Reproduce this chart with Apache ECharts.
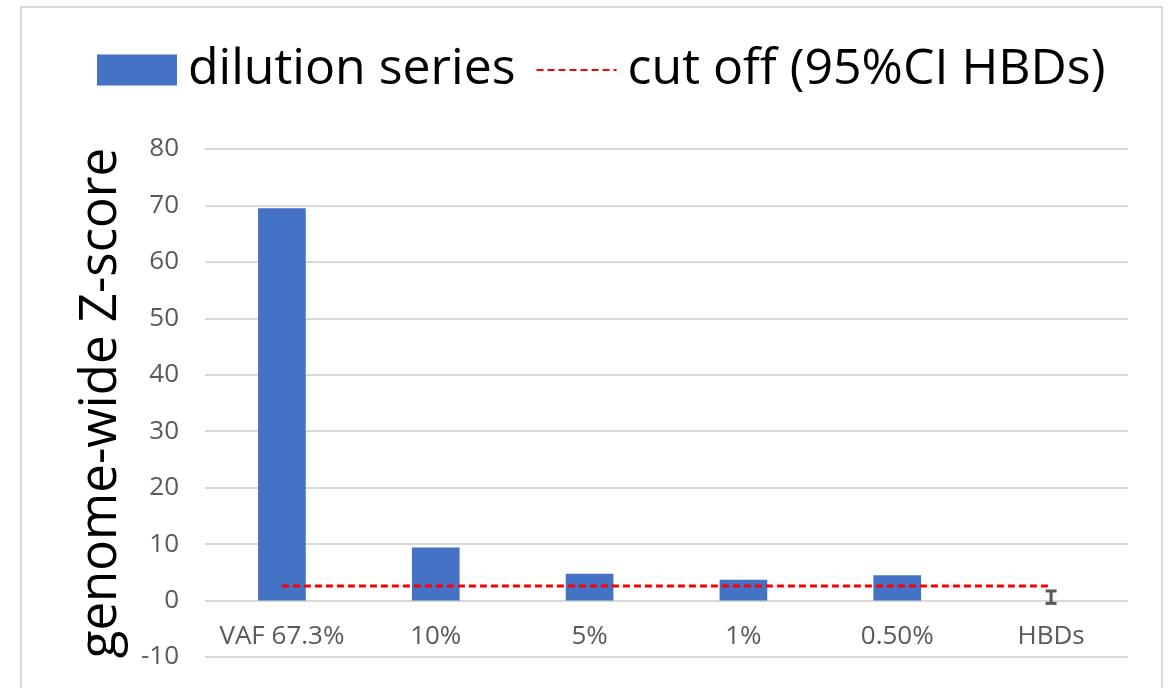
<!DOCTYPE html>
<html>
<head>
<meta charset="utf-8">
<script src="https://cdn.jsdelivr.net/npm/echarts@6/dist/echarts.min.js"></script>
<style>
  html, body { margin: 0; padding: 0; background: #ffffff; }
  #chart { width: 1169px; height: 688px; }
</style>
</head>
<body>
<div id="chart"></div>
<script>
// Samples along the dilution series, plus healthy blood donors (HBDs)
const categories = ['VAF 67.3%', '10%', '5%', '1%', '0.50%', 'HBDs'];
// Genome-wide Z-score per sample
const zScores = [69.5, 9.4, 4.75, 3.7, 4.5, 0.6];
// Error bar on the HBD group (mean ± spread); null where none is shown
const errorSpread = [null, null, null, null, null, 1.1];
// Cut-off from the 95% CI of HBDs, drawn across all categories
const cutOff = [2.6, 2.6, 2.6, 2.6, 2.6, 2.6];
// Y axis ticks
const yMin = -10, yMax = 80, yStep = 10;

const barColor = '#4472C4';
const font = '"Open Sans", "Noto Sans", sans-serif';

const chart = echarts.init(document.getElementById('chart'), null, { renderer: 'canvas' });

// The HBD group is shown only through its error bar, so its bar is unfilled
const barData = zScores.map((v, i) => (
  categories[i] === 'HBDs'
    ? { value: v, itemStyle: { color: 'rgba(0,0,0,0)' } }
    : v
));

const errData = errorSpread
  .map((e, i) => (e == null ? null : [i, zScores[i] - e, zScores[i] + e]))
  .filter(d => d !== null);

chart.setOption({
  animation: false,
  backgroundColor: '#ffffff',
  textStyle: { fontFamily: font },
  graphic: [{
    type: 'rect',
    shape: { x: 21, y: 7, width: 1141, height: 700 },
    style: { fill: 'none', stroke: '#d9d9d9', lineWidth: 2 },
    silent: true,
    z: -10
  }],
  legend: {
    left: 97,
    top: 45,
    padding: 0,
    itemWidth: 80,
    itemHeight: 31,
    itemGap: 20,
    textStyle: {
      fontSize: 50, lineHeight: 50, color: '#000000', fontFamily: font,
      padding: [0, 0, 0, 6]
    },
    data: [
      { name: 'dilution series', icon: 'rect' },
      { name: 'cut off (95%CI HBDs)', itemStyle: { opacity: 0 } }
    ]
  },
  grid: {
    left: 205, right: 41, top: 149, bottom: 31,
    containLabel: false,
    outerBoundsMode: 'none'
  },
  xAxis: {
    type: 'category',
    data: categories,
    boundaryGap: true,
    axisLine: { show: false, onZero: false },
    axisTick: { show: false },
    // Category labels sit just under the zero line, above the -10 gridline
    axisLabel: { color: '#595959', fontSize: 26, margin: -33, interval: 0, fontFamily: font },
    splitLine: { show: false }
  },
  yAxis: {
    type: 'value',
    min: yMin,
    max: yMax,
    interval: yStep,
    name: 'genome-wide Z-score',
    nameLocation: 'middle',
    nameRotate: 90,
    nameGap: 78,
    nameTextStyle: { fontSize: 51, color: '#000000', fontFamily: font },
    axisLine: { show: false },
    axisTick: { show: false },
    axisLabel: { color: '#595959', fontSize: 26, margin: 26, fontFamily: font },
    splitLine: { lineStyle: { color: '#d9d9d9', width: 2 } }
  },
  series: [
    {
      name: 'dilution series',
      type: 'bar',
      data: barData,
      barWidth: '31%',
      itemStyle: { color: barColor },
      z: 2
    },
    {
      name: 'cut off (95%CI HBDs)',
      type: 'line',
      data: cutOff,
      symbol: 'none',
      lineStyle: { color: '#ff0000', width: 3, type: [7, 4] },
      itemStyle: { color: '#ff0000' },
      z: 4
    },
    {
      name: 'error',
      type: 'custom',
      data: errData,
      z: 5,
      renderItem: function (params, api) {
        const x = api.value(0);
        const lo = api.coord([x, api.value(1)]);
        const hi = api.coord([x, api.value(2)]);
        const cap = 5.5;
        const style = { stroke: '#595959', lineWidth: 3 };
        return {
          type: 'group',
          children: [
            { type: 'line', shape: { x1: lo[0], y1: lo[1], x2: hi[0], y2: hi[1] }, style },
            { type: 'line', shape: { x1: lo[0] - cap, y1: lo[1], x2: lo[0] + cap, y2: lo[1] }, style },
            { type: 'line', shape: { x1: hi[0] - cap, y1: hi[1], x2: hi[0] + cap, y2: hi[1] }, style }
          ]
        };
      }
    }
  ]
});
</script>
</body>
</html>
